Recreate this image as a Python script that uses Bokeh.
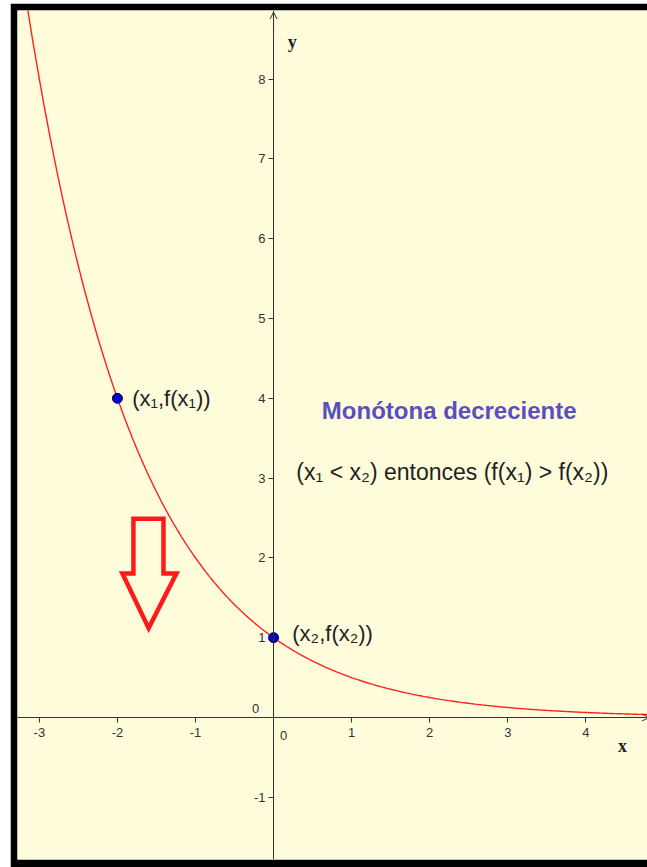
from bokeh.plotting import figure
from bokeh.models import Range1d, FixedTicker, Arrow, OpenHead, ColumnDataSource
from bokeh.core.properties import value
from bokeh.embed import file_html
from bokeh.resources import INLINE

# Labelled points on the curve
point_x = [-2, 0]
point_y = [4, 1]
point_labels = ["(x\u2081,f(x\u2081))", "(x\u2082,f(x\u2082))"]

# Exponential f(x) = b^x, base recovered from the two labelled points
base = (point_y[1] / point_y[0]) ** (1.0 / (point_x[1] - point_x[0]))
n_samples = 400

# Axis ticks
x_ticks = [-3, -2, -1, 1, 2, 3, 4]
y_ticks = [-1, 1, 2, 3, 4, 5, 6, 7, 8]

# Hollow "down" arrow outline (data units)
arrow_x = [-1.795, -1.41, -1.41, -1.244, -1.60, -1.936, -1.795]
arrow_y = [2.49, 2.49, 1.805, 1.805, 1.12, 1.805, 1.805]

title_text = "Mon\u00f3tona decreciente"
rule_text = "(x\u2081 < x\u2082) entonces (f(x\u2081) > f(x\u2082))"

x0, x1 = -3.28, 4.79
y0, y1 = -1.78, 8.86

p = figure(width=637, height=864, output_backend="svg", toolbar_location=None,
           x_range=Range1d(x0, x1), y_range=Range1d(y0, y1),
           min_border_left=7, min_border_top=7, min_border_bottom=8, min_border_right=0)
p.margin = (3, 0, 0, 10)
p.background_fill_color = "#fffcdc"
p.border_fill_color = "black"
p.outline_line_color = None
p.grid.visible = False

AX = "#333333"
for ax in (p.xaxis[0], p.yaxis[0]):
    ax.fixed_location = 0
    ax.axis_line_color = AX
    ax.axis_line_width = 1
    ax.major_tick_in = 0
    ax.major_tick_out = 5
    ax.major_tick_line_color = AX
    ax.minor_tick_line_color = None
    ax.major_label_text_font = "Liberation Sans"
    ax.major_label_text_font_size = "13px"
    ax.major_label_text_color = AX
p.xaxis[0].ticker = FixedTicker(ticks=x_ticks)
p.yaxis[0].ticker = FixedTicker(ticks=y_ticks)
# plain hyphen for negative labels
p.xaxis[0].major_label_overrides = {t: str(t) for t in x_ticks}
p.yaxis[0].major_label_overrides = {t: str(t) for t in y_ticks}
p.xaxis[0].major_label_standoff = 6
p.yaxis[0].major_label_standoff = 3

# axis arrowheads
p.add_layout(Arrow(end=OpenHead(size=7, line_color=AX, line_width=1),
                   x_start=0, y_start=y1 - 0.3, x_end=0, y_end=y1 - 0.02,
                   line_color=AX, line_width=1))
p.add_layout(Arrow(end=OpenHead(size=7, line_color=AX, line_width=1),
                   x_start=x1 - 0.3, y_start=0, x_end=x1 + 0.02, y_end=0,
                   line_color=AX, line_width=1))

# origin labels and axis names
p.text(x=[-0.23], y=[0.11], text=["0"], text_font=value("Liberation Sans"),
       text_font_size="13px", text_color=AX, text_align="center", text_baseline="middle")
p.text(x=[0.13], y=[-0.23], text=["0"], text_font=value("Liberation Sans"),
       text_font_size="13px", text_color=AX, text_align="center", text_baseline="middle")
p.text(x=[0.24, 4.47], y=[8.46, -0.36], text=["y", "x"], text_font=value("Liberation Serif"),
       text_font_style="bold", text_font_size="18px", text_color="#222222",
       text_align="center", text_baseline="middle")

# the curve
xs = [x0 + (x1 - x0) * i / (n_samples - 1) for i in range(n_samples)]
ys = [base ** x for x in xs]
p.line(xs, ys, line_color="#ff2020", line_width=1.4)

# hollow arrow
p.patch(arrow_x, arrow_y, fill_color=None, line_color="#ff1a1a", line_width=4.5,
        line_join="miter")

# points and their labels
src = ColumnDataSource(dict(x=point_x, y=point_y, label=point_labels))
p.scatter("x", "y", source=src, size=10, fill_color="#0000cc", line_color="#000033", line_width=1)
p.text(x=[point_x[0] + 0.19, point_x[1] + 0.24], y=[point_y[0], point_y[1] + 0.05],
       text=point_labels, text_font=value("Liberation Sans"), text_font_size="22px",
       text_color="#222222", text_baseline="middle")

# annotation texts
p.text(x=[2.25], y=[3.85], text=[title_text], text_font=value("Liberation Sans"),
       text_font_style="bold", text_font_size="24px", text_color="#5a4fc0",
       text_align="center", text_baseline="middle")
p.text(x=[2.29], y=[3.08], text=[rule_text], text_font=value("Liberation Sans"),
       text_font_size="23px", text_color="#222222",
       text_align="center", text_baseline="middle")

open("out.html", "w").write(file_html(p, INLINE))
